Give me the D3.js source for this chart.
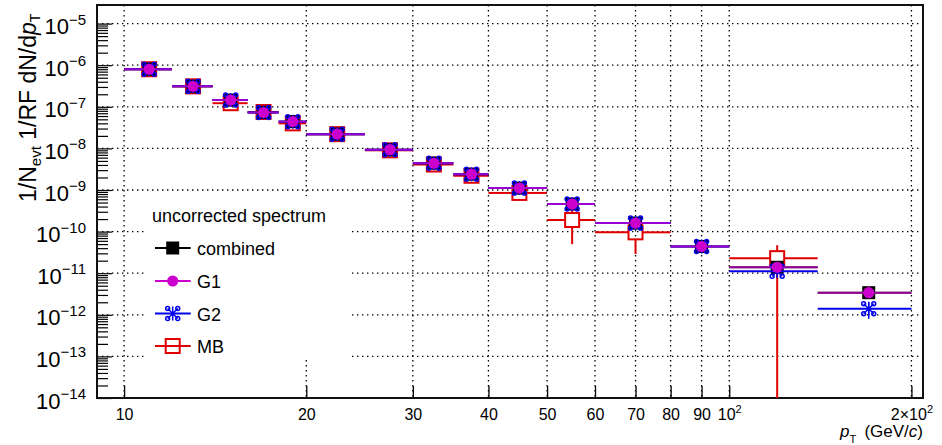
<!DOCTYPE html>
<html>
<head>
<meta charset="utf-8">
<script src="https://cdn.jsdelivr.net/npm/d3@7"></script>
<style>
  html, body { margin: 0; padding: 0; background: #fff; }
  svg { display: block; font-family: "Liberation Sans", Helvetica, Arial, sans-serif; }
</style>
</head>
<body>
<svg id="chart" width="942" height="445"></svg>
<script>
// pT bins (GeV/c)
const binLow  = [10, 12, 14, 16, 18, 20, 25, 30, 35, 40, 50, 60, 80, 100, 140];
const binHigh = [12, 14, 16, 18, 20, 25, 30, 35, 40, 50, 60, 80, 100, 140, 200];

// uncorrected yields per trigger sample
const combined = [8.0e-7, 3.1e-7, 1.45e-7, 7.3e-8, 4.4e-8, 2.2e-8, 9.3e-9, 4.4e-9, 2.4e-9, 1.11e-9, 4.6e-10, 1.6e-10, 4.4e-11, 1.39e-11, 3.4e-12];
const g1       = [8.0e-7, 3.1e-7, 1.45e-7, 7.3e-8, 4.4e-8, 2.2e-8, 9.3e-9, 4.4e-9, 2.4e-9, 1.11e-9, 4.6e-10, 1.6e-10, 4.4e-11, 1.39e-11, 3.4e-12];
const g2       = [8.0e-7, 3.1e-7, 1.45e-7, 7.3e-8, 4.4e-8, 2.2e-8, 9.3e-9, 4.4e-9, 2.4e-9, 1.11e-9, 4.6e-10, 1.6e-10, 4.4e-11, 1.12e-11, 1.4e-12];
const g2Err    = [0, 0, 0, 0, 0, 0, 0, 0, 0, 0, 0, 0, 0, 0, 6e-13];
const mb       = [8.0e-7, 3.1e-7, 1.22e-7, 7.5e-8, 4.0e-8, 2.2e-8, 9.0e-9, 4.1e-9, 2.2e-9, 8.5e-10, 1.9e-10, 9.6e-11, null, 2.3e-11, null];
const mbErr    = [2e-8, 1e-8, 5e-9, 3e-9, 2e-9, 1e-9, 5e-10, 3e-10, 2e-10, 1e-10, 1.4e-10, 6.7e-11, null, 2.4e-11, null];

// axis ticks
const xTicks = [10, 20, 30, 40, 50, 60, 70, 80, 90, 100, 200];
const xTickLabels = ["10", "20", "30", "40", "50", "60", "70", "80", "90", "10|2", "2×10|2"];
const yDecades = [-14, -13, -12, -11, -10, -9, -8, -7, -6, -5];

const legendTitle = "uncorrected spectrum";
const legendNames = ["combined", "G1", "G2", "MB"];

const colors = { combined: "#000000", g1: "#cc00cc", g2: "#0000ee", mb: "#e00000" };

const svg = d3.select("#chart");
const L = 97, R = 923, T = 5, B = 398;

const x = d3.scaleLog().domain([9.02, 209]).range([L, R]);
const y = d3.scaleLog().domain([1e-14, 2.8e-5]).range([B, T]);

// grid
const grid = svg.append("g").attr("stroke", "#000").attr("stroke-width", 1.3)
  .attr("stroke-dasharray", "1.4,3.6").attr("fill", "none");
xTicks.forEach(v => {
  grid.append("line").attr("x1", x(v)).attr("x2", x(v)).attr("y1", T).attr("y2", B);
});
yDecades.forEach(d => {
  const v = Math.pow(10, d);
  grid.append("line").attr("x1", L).attr("x2", R).attr("y1", y(v)).attr("y2", y(v));
});

// legend background
const leg = svg.append("g");
leg.append("rect").attr("x", 147).attr("y", 196).attr("width", 205).attr("height", 164).attr("fill", "#fff");

// x axis
const xAxis = d3.axisBottom(x).tickValues(xTicks).tickSize(-12).tickFormat((d, i) => "");
const gx = svg.append("g").attr("transform", `translate(0,${B})`).call(xAxis);
gx.select(".domain").remove();
gx.selectAll(".tick line").attr("stroke", "#000").attr("stroke-width", 1.3);
gx.selectAll(".tick text").each(function(d, i) {
  const t = d3.select(this).attr("y", 22).attr("dy", null)
    .attr("font-size", 16).attr("fill", "#000").attr("font-family", "Liberation Sans, Helvetica, Arial, sans-serif");
  const parts = xTickLabels[i].split("|");
  t.text(null);
  t.append("tspan").text(parts[0]);
  if (parts[1]) t.append("tspan").attr("dy", -7).attr("font-size", 11).text(parts[1]);
});

// y axis
const yTickVals = [];
yDecades.forEach(d => {
  yTickVals.push(Math.pow(10, d));
  if (d < -5) for (let m = 2; m <= 9; m++) yTickVals.push(m * Math.pow(10, d));
});
const yVisible = yTickVals.filter(v => v <= y.domain()[1]);
const yAxis = d3.axisLeft(y).tickValues(yVisible).tickSize(-11).tickFormat("");
const gy = svg.append("g").attr("transform", `translate(${L},0)`).call(yAxis);
gy.select(".domain").remove();
gy.selectAll(".tick line").attr("stroke", "#000").attr("stroke-width", 1.2)
  .attr("x2", d => (Math.abs(Math.log10(d) - Math.round(Math.log10(d))) < 1e-9 ? 15 : 11));
gy.selectAll(".tick text").each(function(d) {
  const e = Math.log10(d);
  if (Math.abs(e - Math.round(e)) > 1e-9) return;
  const t = d3.select(this).attr("x", -11).attr("dy", null).attr("y", 10)
    .attr("text-anchor", "end").attr("fill", "#000").attr("font-size", 22)
    .attr("font-family", "Liberation Sans, Helvetica, Arial, sans-serif");
  t.text(null);
  t.append("tspan").text("10");
  t.append("tspan").attr("dy", -9.5).attr("font-size", 15).text("\u2212" + Math.abs(Math.round(e)));
});

// frame
svg.append("rect").attr("x", L).attr("y", T).attr("width", R - L).attr("height", B - T)
  .attr("fill", "none").attr("stroke", "#111").attr("stroke-width", 2);

// data
const plot = svg.append("g");
const clipId = "plotclip";
svg.append("clipPath").attr("id", clipId).append("rect").attr("x", L).attr("y", T).attr("width", R - L).attr("height", B - T);
plot.attr("clip-path", `url(#${clipId})`);

function yClamp(v) { return v > 0 ? y(v) : B + 5; }

function asteriskPath(s) {
  const a = s * 0.72, r = s * 0.28;
  let p = `M0,${-s}L0,${s}M${-a},${-a}L${a},${a}M${-a},${a}L${a},${-a}`;
  [[-a, -a], [a, -a], [-a, a], [a, a]].forEach(([cx, cy]) => {
    p += `M${cx + r},${cy}A${r},${r} 0 1,1 ${cx - r},${cy}A${r},${r} 0 1,1 ${cx + r},${cy}`;
  });
  return p;
}

const centersArith = binLow.map((lo, i) => (lo + binHigh[i]) / 2);

// MB: open squares, error lines stop at the marker edge
const mbG = plot.append("g").attr("stroke", colors.mb).attr("stroke-width", 2).attr("fill", "none");
mb.forEach((v, i) => {
  if (v == null) return;
  const cx = x(centersArith[i]), cy = y(v), h = 7;
  mbG.append("line").attr("x1", x(binLow[i])).attr("x2", cx - h).attr("y1", cy).attr("y2", cy);
  mbG.append("line").attr("x1", cx + h).attr("x2", x(binHigh[i])).attr("y1", cy).attr("y2", cy);
  const lo = v - mbErr[i], hi = v + mbErr[i];
  if (y(hi) < cy - h) mbG.append("line").attr("x1", cx).attr("x2", cx).attr("y1", cy - h).attr("y2", y(hi));
  if (yClamp(lo) > cy + h) mbG.append("line").attr("x1", cx).attr("x2", cx).attr("y1", cy + h).attr("y2", yClamp(lo));
  mbG.append("rect").attr("x", cx - h).attr("y", cy - h).attr("width", 2 * h).attr("height", 2 * h);
});

// combined: filled black squares
const cG = plot.append("g");
combined.forEach((v, i) => {
  const cx = x(centersArith[i]), cy = y(v);
  cG.append("line").attr("x1", x(binLow[i])).attr("x2", x(binHigh[i])).attr("y1", cy).attr("y2", cy)
    .attr("stroke", colors.combined).attr("stroke-width", 2);
  cG.append("rect").attr("x", cx - 6.5).attr("y", cy - 6.5).attr("width", 13).attr("height", 13).attr("fill", colors.combined);
});

// G2: blue asterisks
const g2G = plot.append("g");
g2.forEach((v, i) => {
  const cx = x(centersArith[i]), cy = y(v);
  g2G.append("line").attr("x1", x(binLow[i])).attr("x2", x(binHigh[i])).attr("y1", cy).attr("y2", cy)
    .attr("stroke", colors.g2).attr("stroke-width", 2);
  if (g2Err[i] > 0) {
    g2G.append("line").attr("x1", cx).attr("x2", cx).attr("y1", y(v + g2Err[i])).attr("y2", yClamp(v - g2Err[i]))
      .attr("stroke", colors.g2).attr("stroke-width", 1.5);
  }
  g2G.append("path").attr("transform", `translate(${cx},${cy})`).attr("d", asteriskPath(7))
    .attr("fill", "none").attr("stroke", colors.g2).attr("stroke-width", 1.5);
});

// G1: magenta circles
const g1G = plot.append("g");
g1.forEach((v, i) => {
  const cx = x(centersArith[i]), cy = y(v);
  g1G.append("line").attr("x1", x(binLow[i])).attr("x2", x(binHigh[i])).attr("y1", cy).attr("y2", cy)
    .attr("stroke", colors.g1).attr("stroke-width", 2).attr("stroke-opacity", 0.75);
  g1G.append("circle").attr("cx", cx).attr("cy", cy).attr("r", 5.6).attr("fill", colors.g1);
});

// legend
leg.append("text").attr("x", 152).attr("y", 222).attr("font-size", 18).attr("fill", "#000").text(legendTitle);
const legY = [248, 281, 313.5, 346];
legendNames.forEach((name, i) => {
  const cy = legY[i], cx = 172.7;
  const col = [colors.combined, colors.g1, colors.g2, colors.mb][i];
  leg.append("line").attr("x1", 155).attr("x2", 190.7).attr("y1", cy).attr("y2", cy)
    .attr("stroke", col).attr("stroke-width", 2);
  if (i === 0) leg.append("rect").attr("x", cx - 6.5).attr("y", cy - 6.5).attr("width", 13).attr("height", 13).attr("fill", col);
  if (i === 1) leg.append("circle").attr("cx", cx).attr("cy", cy).attr("r", 5.6).attr("fill", col);
  if (i === 2) leg.append("path").attr("transform", `translate(${cx},${cy})`).attr("d", asteriskPath(7))
    .attr("fill", "none").attr("stroke", col).attr("stroke-width", 1.5);
  if (i === 3) leg.append("rect").attr("x", cx - 7).attr("y", cy - 7).attr("width", 14).attr("height", 14)
    .attr("fill", "none").attr("stroke", col).attr("stroke-width", 2);
  leg.append("text").attr("x", 197).attr("y", cy + 7).attr("font-size", 18).attr("fill", "#000").text(name);
});

// axis titles
const yt = svg.append("text").attr("transform", "translate(36,202) rotate(-90)")
  .attr("font-size", 23).attr("fill", "#000");
yt.append("tspan").text("1/N");
yt.append("tspan").attr("dy", 5).attr("font-size", 15).text("evt");
yt.append("tspan").attr("dy", -5).text(" 1/RF dN/d");
yt.append("tspan").attr("font-style", "italic").text("p");
yt.append("tspan").attr("dy", 4).attr("font-size", 14).text("T");

const xt = svg.append("text").attr("x", 923).attr("y", 437).attr("text-anchor", "end")
  .attr("font-size", 17).attr("fill", "#000");
xt.append("tspan").attr("font-style", "italic").text("p");
xt.append("tspan").attr("dy", 6).attr("font-size", 11).text("T");
xt.append("tspan").attr("dy", -6).text("\u2009 (GeV/");
xt.append("tspan").attr("font-style", "italic").text("c");
xt.append("tspan").text(")");
</script>
</body>
</html>
